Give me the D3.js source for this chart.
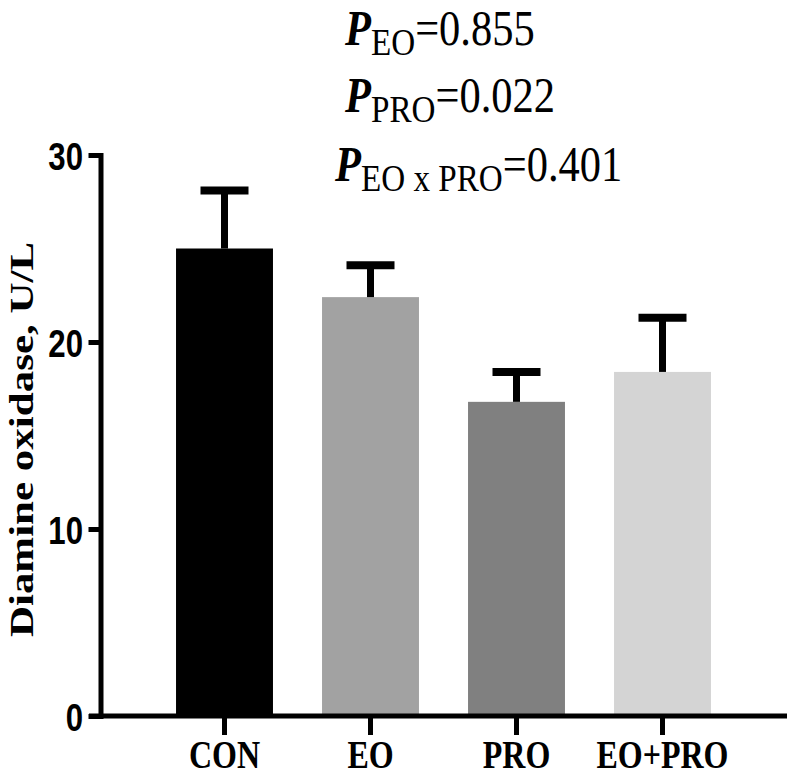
<!DOCTYPE html>
<html>
<head>
<meta charset="utf-8">
<script src="https://cdn.jsdelivr.net/npm/d3@7"></script>
<style>
  html, body { margin: 0; padding: 0; background: #fff; }
  svg { display: block; }
</style>
</head>
<body>
<svg id="chart" width="787" height="778"></svg>
<script>
// ---- data ----
const categories = ["CON", "EO", "PRO", "EO+PRO"];
const means = [25.0, 22.4, 16.8, 18.4];
const errorTops = [28.1, 24.1, 18.4, 21.3];
const barColors = ["#000000", "#a2a2a2", "#808080", "#d4d4d4"];
const yTicks = [0, 10, 20, 30];
const yLabel = "Diamine oxidase, U/L";
const pSubs = ["EO", "PRO", "EO x PRO"];
const pValues = ["=0.855", "=0.022", "=0.401"];

// ---- layout ----
const svg = d3.select("#chart");
const SERIF = "'Liberation Serif', 'Times New Roman', serif";
const SANS = "'Liberation Sans', Arial, sans-serif";
const SX = 0.8; // horizontal squeeze of the original picture's text

const y = d3.scaleLinear().domain([0, 30]).range([716, 155]);
const x = d3.scaleBand().domain(categories).range([151.5, 735.5])
  .paddingInner(0.336).paddingOuter(0.168);
const axisX = 100.5;

// bars
svg.append("g").selectAll("rect").data(categories).join("rect")
  .attr("x", d => x(d))
  .attr("width", x.bandwidth())
  .attr("y", (d, i) => y(means[i]))
  .attr("height", (d, i) => y(0) - y(means[i]))
  .attr("fill", (d, i) => barColors[i]);

// error bars (upper only)
const eb = svg.append("g").attr("stroke", "#000");
eb.selectAll("line.stem").data(categories).join("line")
  .attr("class", "stem")
  .attr("x1", d => x(d) + x.bandwidth() / 2)
  .attr("x2", d => x(d) + x.bandwidth() / 2)
  .attr("y1", (d, i) => y(means[i]))
  .attr("y2", (d, i) => y(errorTops[i]))
  .attr("stroke-width", 7);
eb.selectAll("line.cap").data(categories).join("line")
  .attr("class", "cap")
  .attr("x1", d => x(d) + x.bandwidth() / 2 - 24)
  .attr("x2", d => x(d) + x.bandwidth() / 2 + 24)
  .attr("y1", (d, i) => y(errorTops[i]))
  .attr("y2", (d, i) => y(errorTops[i]))
  .attr("stroke-width", 8);

// y axis
const gy = svg.append("g").attr("transform", `translate(${axisX},0)`)
  .call(d3.axisLeft(y).tickValues(yTicks).tickSize(12).tickSizeOuter(0).tickPadding(17));
gy.select(".domain").attr("stroke-width", 5).attr("stroke-linecap", "square");
gy.selectAll(".tick line").attr("stroke-width", 5);
gy.selectAll(".tick text")
  .attr("font-family", SANS).attr("font-weight", "bold").attr("font-size", 39)
  .attr("fill", "#000")
  .attr("x", -17.5 / SX)
  .attr("dy", "0.36em")
  .attr("transform", `scale(${SX},1)`);

// x axis
const gx = svg.append("g").attr("transform", `translate(0,${y(0)})`)
  .call(d3.axisBottom(x).tickSize(19).tickSizeOuter(0).tickPadding(5));
gx.select(".domain").remove();
gx.selectAll(".tick line").attr("stroke-width", 5);
gx.selectAll(".tick text")
  .attr("font-family", SERIF).attr("font-weight", "bold").attr("font-size", 40)
  .attr("fill", "#000")
  .attr("x", 0)
  .attr("transform", `scale(${SX},1)`);
svg.append("line")
  .attr("x1", 89).attr("x2", 787)
  .attr("y1", y(0)).attr("y2", y(0))
  .attr("stroke", "#000").attr("stroke-width", 5);

// y axis title
svg.append("text")
  .attr("transform", `translate(33,439.5) scale(${SX},1) rotate(-90)`)
  .attr("text-anchor", "middle")
  .attr("font-family", SERIF).attr("font-weight", "bold").attr("font-size", 43)
  .attr("fill", "#000")
  .text(yLabel);

// P-value annotations
const pX = [345, 345, 335];
const pBase = [45, 112, 181];
pSubs.forEach((s, i) => {
  const t = svg.append("text")
    .attr("transform", `translate(${pX[i]},${pBase[i]}) scale(0.85,1)`)
    .attr("font-family", SERIF).attr("fill", "#000");
  t.append("tspan").attr("font-size", 50).attr("font-weight", "bold")
    .attr("font-style", "italic").text("P");
  t.append("tspan").attr("font-size", 39).attr("dy", 10).text(s);
  t.append("tspan").attr("font-size", 50).attr("dy", -10).text(pValues[i]);
});
</script>
</body>
</html>
